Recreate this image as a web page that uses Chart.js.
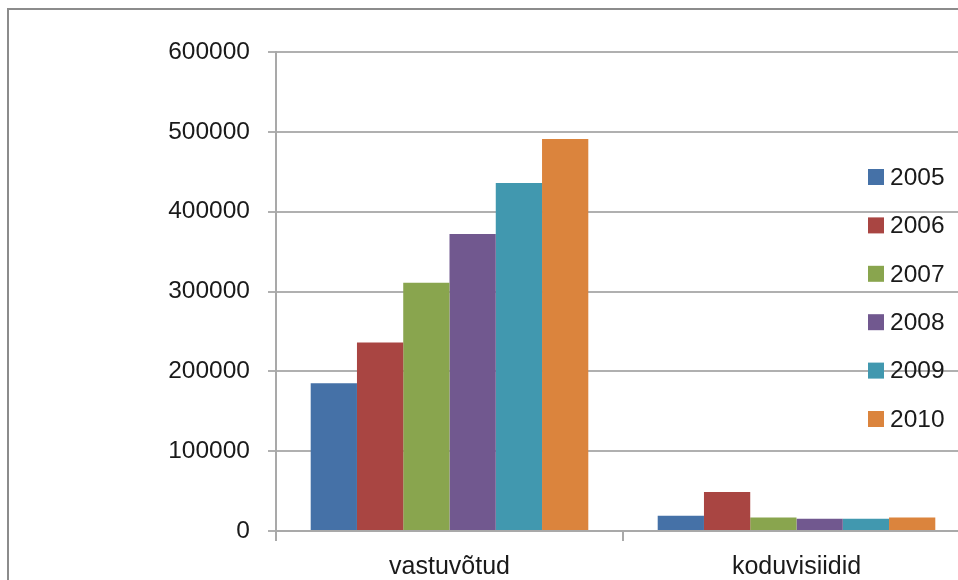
<!DOCTYPE html>
<html>
<head>
<meta charset="utf-8">
<script src="https://cdn.jsdelivr.net/npm/chart.js@4"></script>
<style>
  html, body { margin: 0; padding: 0; background: #fff; }
  #wrap { position: relative; width: 958px; height: 580px; overflow: hidden; background: #fff; }
  #frame { position: absolute; left: 7px; top: 8px; width: 1200px; height: 1200px;
           border-top: 2px solid #8c8c8c; border-left: 2px solid #8c8c8c; }
  canvas { position: absolute; left: 0; top: 0; }
</style>
</head>
<body>
<div id="wrap">
  <div id="frame"></div>
  <canvas id="c" width="990" height="600"></canvas>
</div>
<script>
// Visits per year, split by type
const categories = ['vastuvõtud', 'koduvisiidid'];
const years = ['2005', '2006', '2007', '2008', '2009', '2010'];
const v2005 = [185000, 19000];
const v2006 = [236000, 49000];
const v2007 = [311000, 17000];
const v2008 = [372000, 15500];
const v2009 = [436000, 15500];
const v2010 = [491000, 17000];
const yTicks = [0, 100000, 200000, 300000, 400000, 500000, 600000];

const seriesValues = [v2005, v2006, v2007, v2008, v2009, v2010];
const colors = ['#4571A7', '#A94542', '#89A54E', '#71588F', '#4198AF', '#DB843D'];

const FONT = '"Liberation Sans", Arial, sans-serif';

// Legend drawn over the plot, without a background
const overlayLegend = {
  id: 'overlayLegend',
  afterDraw(chart) {
    const ctx = chart.ctx;
    ctx.save();
    ctx.font = '24.5px ' + FONT;
    ctx.textBaseline = 'middle';
    ctx.textAlign = 'left';
    chart.data.datasets.forEach((ds, i) => {
      const cy = 177 + i * 48.4;
      ctx.fillStyle = ds.backgroundColor;
      ctx.fillRect(868, cy - 8, 16, 16);
      ctx.fillStyle = '#1a1a1a';
      ctx.fillText(ds.label, 890, cy + 1);
    });
    ctx.restore();
  }
};

new Chart(document.getElementById('c'), {
  type: 'bar',
  data: {
    labels: categories,
    datasets: years.map((y, i) => ({
      label: y,
      data: seriesValues[i],
      backgroundColor: colors[i],
      borderWidth: 0,
      barPercentage: 1.0,
      categoryPercentage: 0.8
    }))
  },
  options: {
    responsive: false,
    animation: false,
    layout: { padding: { top: 52, right: 20, bottom: 0, left: 0 } },
    plugins: { legend: { display: false }, tooltip: { enabled: false } },
    scales: {
      x: {
        afterFit(scale) { scale.height = 69; },
        grid: { offset: true, drawOnChartArea: false, drawTicks: true, tickLength: 10, color: '#a9a9a9', lineWidth: 2 },
        border: { display: true, color: '#a9a9a9', width: 2 },
        ticks: { color: '#1a1a1a', font: { family: FONT, size: 25 }, padding: 11 }
      },
      y: {
        min: 0,
        max: 600000,
        afterFit(scale) { scale.width = 276; },
        afterBuildTicks(scale) { scale.ticks = yTicks.map(v => ({ value: v })); },
        grid: { color: '#b0b0b0', lineWidth: 2, drawTicks: true, tickLength: 8 },
        border: { display: true, color: '#a9a9a9', width: 2 },
        ticks: { color: '#1a1a1a', font: { family: FONT, size: 24.5 }, padding: 18, callback: v => String(v) }
      }
    }
  },
  plugins: [overlayLegend]
});
</script>
</body>
</html>
